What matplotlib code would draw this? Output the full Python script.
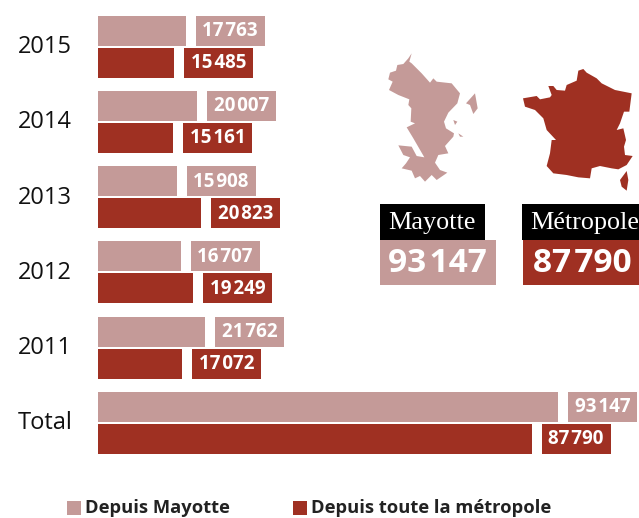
import matplotlib
matplotlib.use("Agg")
import matplotlib.pyplot as plt
from matplotlib.patches import Polygon, Rectangle

categories = ["2015", "2014", "2013", "2012", "2011", "Total"]
mayotte = [17763, 20007, 15908, 16707, 21762, 93147]
metropole = [15485, 15161, 20823, 19249, 17072, 87790]
series_names = ["Depuis Mayotte", "Depuis toute la métropole"]
map_names = ["Mayotte", "Métropole"]

LIGHT = "#C49A98"
DARK = "#9F3022"
W, H = 639, 518
PX_PER_UNIT = 460 / 93147
FONT = ["Open Sans", "DejaVu Sans"]


def fmt(v):
    s = f"{v:d}"
    return s[:-3] + "\u200a" + s[-3:]


fig = plt.figure(figsize=(W / 100, H / 100), dpi=100)

# Bars: data axes, x in values, y in rows
ax = fig.add_axes([0, 0, 1, 1])
ax.set_xlim(-98 / PX_PER_UNIT, (W - 98) / PX_PER_UNIT)
top_px, step_px = 46.0, 75.3
row_h = 30 / step_px
ax.set_ylim((H - top_px) / step_px, -top_px / step_px)
ax.axis("off")
y_px = 1 / step_px
for i, (cat, a, b) in enumerate(zip(categories, mayotte, metropole)):
    ya = i - 15.5 * y_px
    yb = i + 16.5 * y_px
    for v, y, c in ((a, ya, LIGHT), (b, yb, DARK)):
        ax.barh(y, v, height=row_h, left=0, color=c, linewidth=0)
        x0 = v + 10 / PX_PER_UNIT
        w = 69 / PX_PER_UNIT
        ax.barh(y, w, height=row_h, left=x0, color=c, linewidth=0)
        ax.text(x0 + w / 2, y + 0.5 * y_px, fmt(v), color="white", ha="center",
                va="center", fontsize=13.5, fontweight="bold", family=FONT)
    ax.text(-80 / PX_PER_UNIT, i + 1 * y_px, cat, ha="left", va="center", fontsize=17,
            color="#111111", family=FONT)

# Overlay in pixel coordinates for maps, boxes and legend
ov = fig.add_axes([0, 0, 1, 1], facecolor="none")
ov.set_xlim(0, W)
ov.set_ylim(H, 0)
ov.axis("off")


def zoom_poly(pts, color):
    ov.add_patch(Polygon([(370 + x / 3, 40 + y / 3) for x, y in pts],
                         closed=True, color=color, linewidth=0))


zoom_poly([(125, 40), (115, 55), (100, 72), (82, 75), (78, 92), (60, 98), (55, 118), (68, 125),
           (57, 150), (85, 165), (118, 178), (115, 195), (124, 205), (122, 245), (135, 250),
           (110, 262), (130, 295), (163, 352), (140, 348), (125, 320), (85, 316), (100, 345),
           (120, 352), (108, 370), (95, 385), (125, 392), (135, 415), (150, 408), (165, 425),
           (185, 405), (200, 420), (232, 398), (210, 390), (195, 368), (205, 345), (235, 340),
           (225, 318), (250, 290), (252, 280), (228, 265), (222, 245), (235, 218), (262, 190),
           (270, 160), (245, 130), (200, 125), (190, 115), (180, 128), (155, 100), (125, 70),
           (118, 65)], LIGHT)
zoom_poly([(288, 190), (315, 160), (323, 205), (310, 222), (300, 195)], LIGHT)
zoom_poly([(250, 240), (262, 245), (255, 255)], LIGHT)
zoom_poly([(265, 280), (280, 290), (270, 290)], LIGHT)
zoom_poly([(459, 175), (500, 168), (510, 178), (540, 172), (545, 165), (535, 138), (550, 138),
           (560, 150), (585, 152), (590, 135), (620, 122), (625, 92), (640, 87), (650, 98),
           (680, 115), (695, 130), (735, 150), (785, 160), (778, 215), (762, 215), (750, 250),
           (740, 270), (760, 265), (768, 300), (762, 320), (765, 345), (788, 348), (770, 375),
           (745, 388), (725, 385), (690, 378), (665, 385), (660, 415), (625, 412), (590, 405),
           (550, 400), (530, 378), (540, 340), (545, 300), (558, 300), (530, 270), (520, 235),
           (495, 210), (465, 200)], DARK)
zoom_poly([(770, 393), (775, 420), (770, 452), (755, 440), (750, 420)], DARK)

boxes = [(380, 105, 116, LIGHT, mayotte[-1], 0), (522, 117, 117, DARK, metropole[-1], 1)]
for x, bw, vw, col, val, k in boxes:
    ov.add_patch(Rectangle((x, 204), bw, 36, color="black", linewidth=0))
    ov.add_patch(Rectangle((x + k, 240), vw, 45, color=col, linewidth=0))
    ov.text(x + 8, 223, map_names[k], color="white", ha="left", va="center",
            fontsize=18.8, family="Liberation Serif")
    ov.text(x + k + vw / 2 - k * 0.5 - 0.5 + k * 1.5, 264, fmt(val), color="white", ha="center",
            va="center", fontsize=24, fontweight="bold", family=FONT)

for px, tx, col, name in ((67, 85, LIGHT, series_names[0]), (293, 311, DARK, series_names[1])):
    ov.add_patch(Rectangle((px, 501), 14, 14, color=col, linewidth=0))
    ov.text(tx, 508, name, color="#222222", ha="left", va="center", fontsize=13.2,
            fontweight="bold", family=FONT)

fig.savefig("out.png", dpi=100)
